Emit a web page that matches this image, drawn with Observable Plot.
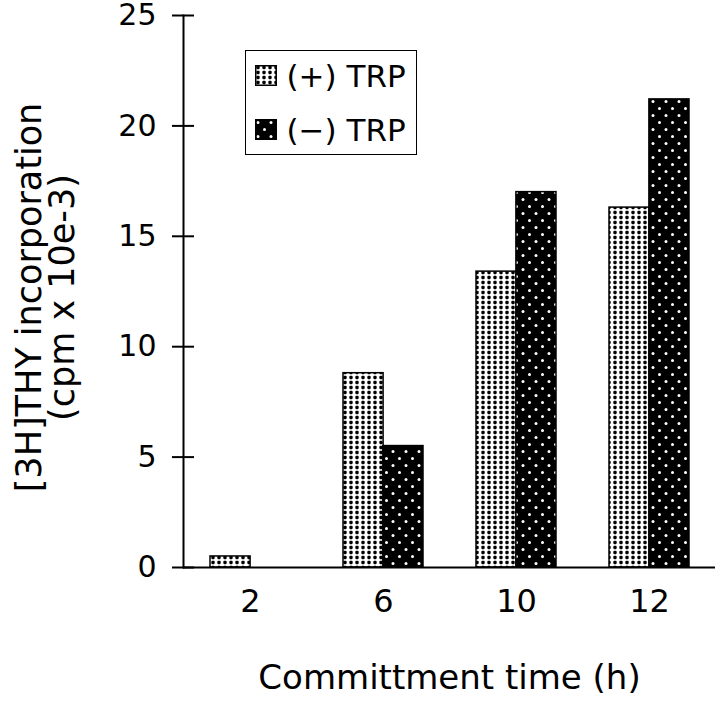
<!DOCTYPE html>
<html><head><meta charset="utf-8">
<script src="https://cdn.jsdelivr.net/npm/d3@7"></script>
<script src="https://cdn.jsdelivr.net/npm/@observablehq/plot@0.6"></script>
<style>
body{margin:0;background:#fff;font-family:"DejaVu Sans",sans-serif;}
#wrap{position:relative;width:720px;height:709px;}
#legend{position:absolute;left:245px;top:50px;width:172px;height:105px;border:1.5px solid #000;box-sizing:border-box;font-size:31px;color:#000;}
.item{position:absolute;left:8.5px;display:flex;align-items:center;height:34px;white-space:nowrap;}
.item svg{margin-right:10px;}
</style></head><body>
<svg width="0" height="0" style="position:absolute">
<defs>
<pattern id="pPlus" width="6" height="5" patternUnits="userSpaceOnUse">
<rect width="6" height="5" fill="#fff"/><rect x="1.3" y="0.8" width="3.4" height="3.4" rx="1.1" fill="#000"/>
</pattern>
<pattern id="pMinus" width="13" height="14" patternUnits="userSpaceOnUse">
<rect width="13" height="14" fill="#000"/><circle cx="3" cy="3.5" r="1.5" fill="#fff"/><circle cx="9.5" cy="10.5" r="1.5" fill="#fff"/>
</pattern>
</defs></svg>
<div id="wrap"></div>
<script>
const times = ["2", "6", "10", "12"];
const plusTRP = [0.5, 8.8, 13.4, 16.3];
const minusTRP = [0, 5.5, 17.0, 21.2];
const seriesNames = ["(+) TRP", "(\u2212) TRP"];
const yTicks = [0, 5, 10, 15, 20, 25];
const xLabel = "Committment time (h)";
const yLabel = "[3H]THY incorporation\n(cpm x 10e-3)";

const W = 720, H = 709, mL = 183, mR = 5, mT = 15, mB = 142;
const pInner = 0.4, pOuter = 0.2;
const step = (W - mL - mR) / (times.length - pInner + 2 * pOuter);
const half = step * (1 - pInner) / 2;
const rows = times.map((t, i) => ({time: t, plus: plusTRP[i], minus: minusTRP[i]}));

const chart = Plot.plot({
  width: W, height: H,
  marginLeft: mL, marginRight: mR, marginTop: mT, marginBottom: mB,
  style: {fontFamily: "DejaVu Sans", fontSize: "32px", color: "#000", background: "#fff", overflow: "visible"},
  x: {domain: times, paddingInner: pInner, paddingOuter: pOuter, label: null},
  y: {domain: [0, 25], label: null},
  marks: [
    Plot.barY(rows, {x: "time", y: "plus", fill: "url(#pPlus)", stroke: "#000", strokeWidth: 1.5, insetRight: half}),
    Plot.barY(rows.filter(d => d.minus > 0), {x: "time", y: "minus", fill: "url(#pMinus)", stroke: "#000", strokeWidth: 1.5, insetLeft: half}),
    Plot.ruleY([0], {strokeWidth: 2}),
    Plot.frame({anchor: "left", strokeWidth: 2}),
    Plot.axisY({ticks: yTicks, tickSize: 22, insetLeft: 11, tickPadding: 16, strokeWidth: 2, label: null, fontSize: 30}),
    Plot.axisX({tickSize: 0, tickPadding: 22, fontSize: 32, label: null}),
    Plot.text([xLabel], {frameAnchor: "bottom", dy: 121, fontSize: 34}),
    Plot.text([yLabel], {frameAnchor: "left", textAnchor: "middle", lineAnchor: "middle", dx: -137, dy: 6, rotate: -90, fontSize: 35, lineHeight: 0.95})
  ]
});
const wrap = document.getElementById("wrap");
wrap.appendChild(chart);

const legend = document.createElement("div");
legend.id = "legend";
const fills = ["url(#pPlus)", "url(#pMinus)"];
seriesNames.forEach((name, i) => {
  const it = document.createElement("div");
  it.className = "item";
  it.style.top = (7.5 + i * 54) + "px";
  it.innerHTML = `<svg width="22" height="21"><rect x="0.75" y="0.75" width="20.5" height="19.5" fill="${fills[i]}" stroke="#000" stroke-width="1.5"/></svg><span>${name}</span>`;
  legend.appendChild(it);
});
wrap.appendChild(legend);
</script>
</body></html>
